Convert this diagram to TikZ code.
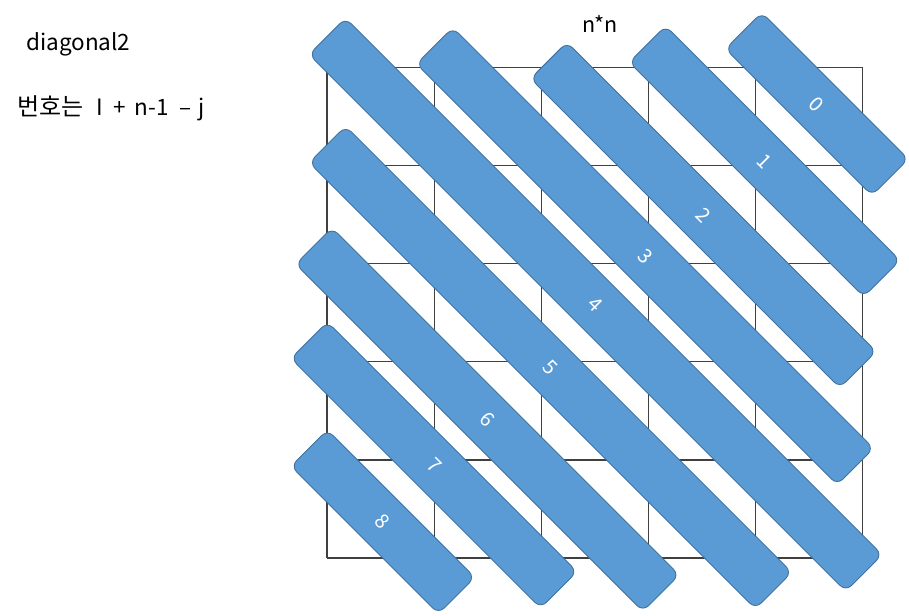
\documentclass[tikz,border=0pt]{standalone}
\usepackage{fontspec}
\setmainfont{Noto Sans CJK KR}
\definecolor{barfill}{HTML}{5B9BD5}
\definecolor{barline}{HTML}{41719C}
\definecolor{gridc}{HTML}{404040}
\begin{document}
\begin{tikzpicture}[x=1pt,y=-1pt,
  bar/.style={draw=barline, fill=barfill, line width=0.9pt, rounded corners=8pt,
    rotate=-45, minimum height=51.5pt, inner sep=0pt, text=white,
    font=\fontsize{20}{24}\selectfont},
  lbl/.style={font=\fontsize{21.5}{25}\selectfont, inner sep=0pt, text=black},
  gridline/.style={draw=gridc, line width=1.2pt}]
\useasboundingbox (0,0) rectangle (909,615);
% grid 5x5
\foreach \i in {0,...,5} {
  \draw[gridline] ({327+107.1*\i},67.5) -- ({327+107.1*\i},558);
  \draw[gridline] (327,{67.5+98.1*\i}) -- (862.5,{67.5+98.1*\i});
}
% diagonal bars
\node[bar, minimum width=207.3pt] (b0) at (816.9,104.0) {0};
\node[bar, minimum width=331.6pt] (b1) at (764.6,161.3) {1};
\node[bar, minimum width=437.4pt] (b2) at (703.4,215.0) {2};
\node[bar, minimum width=595.2pt] (b3) at (645.0,256.2) {3};
\node[bar, minimum width=759.1pt] (b4) at (595.6,304.6) {4};
\node[bar, minimum width=631.0pt] (b5) at (550.5,367.5) {5};
\node[bar, minimum width=491.0pt] (b6) at (487.4,419.6) {6};
\node[bar, minimum width=353.2pt] (b7) at (434.0,465.0) {7};
\node[bar, minimum width=208.6pt] (b8) at (382.9,521.8) {8};
% texts
\node[lbl] (title) at (600,24) {n*n};
\node[lbl, anchor=west, font=\fontsize{22.5}{26}\selectfont] (name) at (26,44) {diagonal2};
\node[lbl, anchor=west, font=\fontsize{22.5}{26}\selectfont] (rule) at (17,108)
  {{\fontsize{24}{26}\selectfont 번호는}\hspace{13pt}I\hspace{10pt}+\hspace{9pt}n-1\hspace{11pt}–\hspace{7pt}j};
\end{tikzpicture}
\end{document}
